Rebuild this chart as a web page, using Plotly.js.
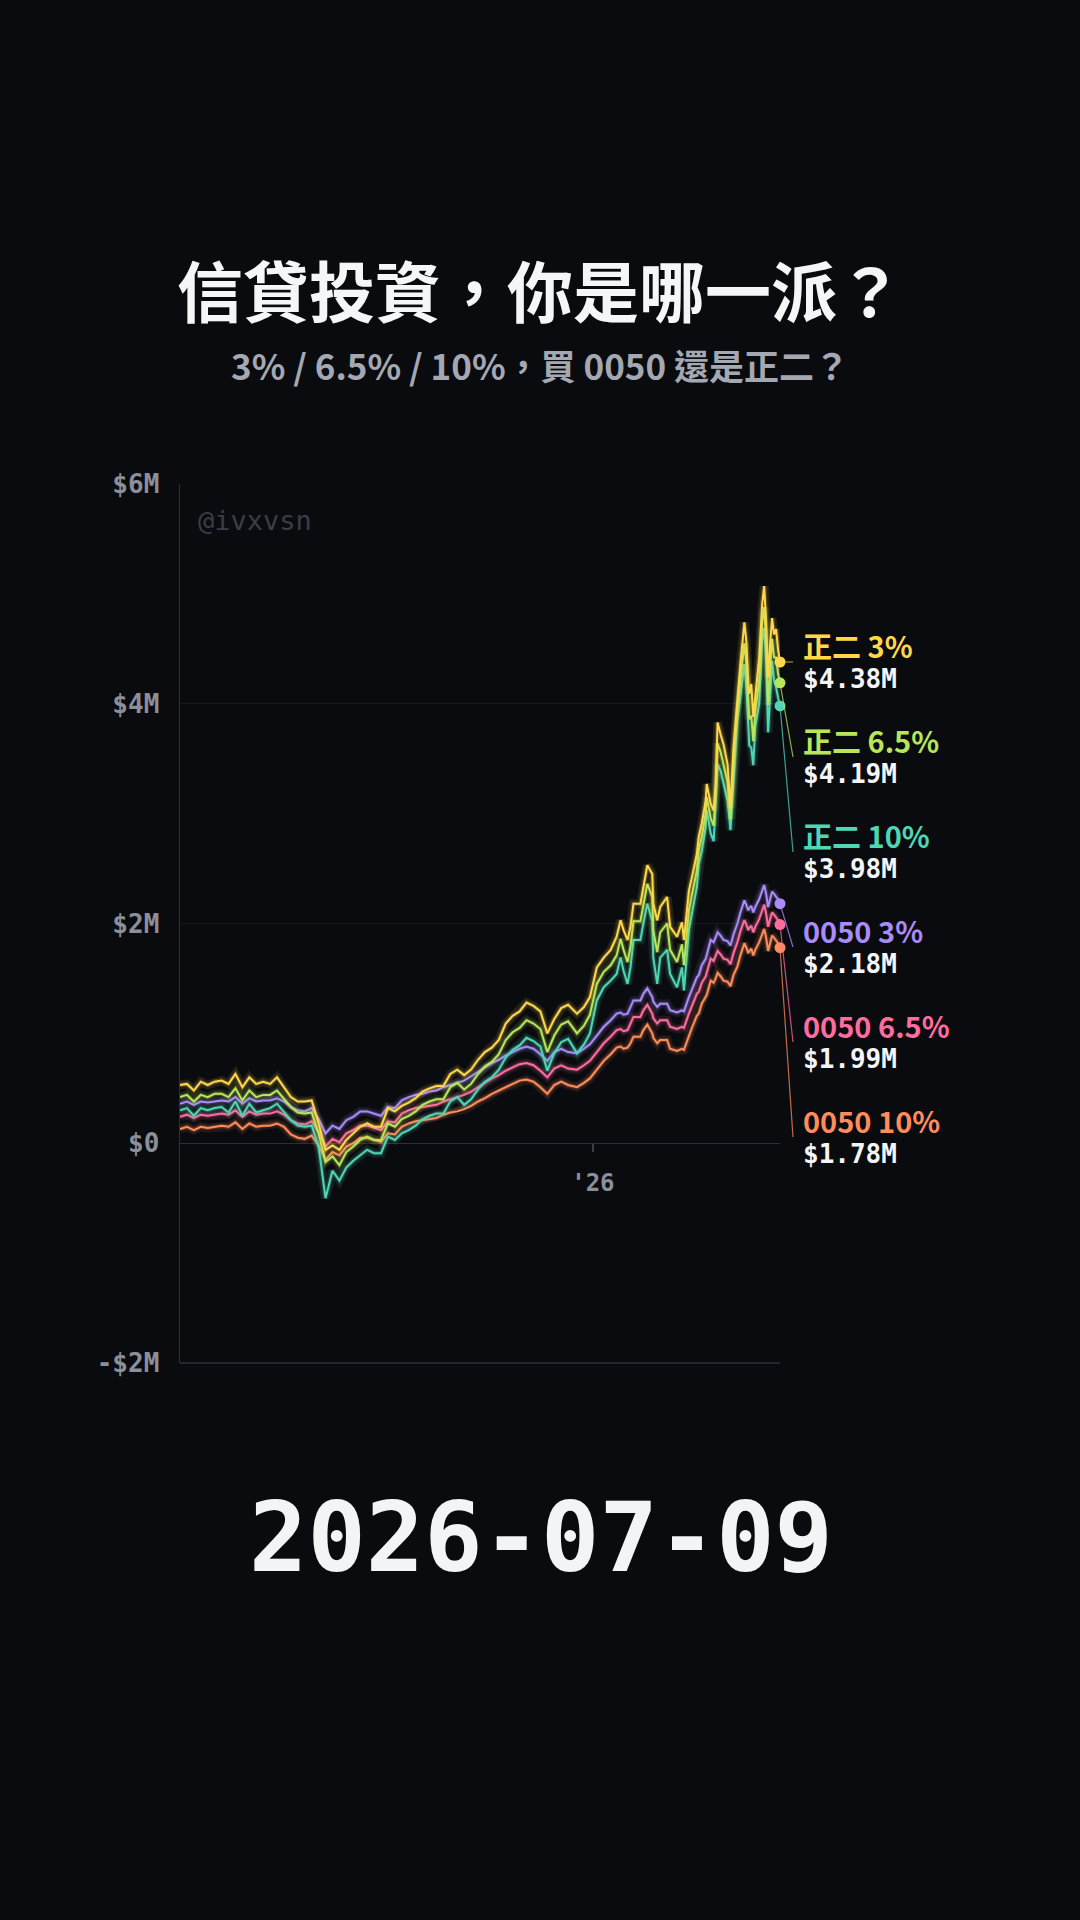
<!DOCTYPE html>
<html>
<head>
<meta charset="utf-8">
<script src="https://cdn.plot.ly/plotly-3.0.1.min.js"></script>
<style>
html,body{margin:0;padding:0;background:#0a0b0f;}
#chart{width:1080px;height:1920px;}
</style>
</head>
<body>
<div id="chart"></div>
<script>
// ---------- data ----------
const dates = [
'2024-11-10','2024-11-17','2024-11-24','2024-12-01','2024-12-08','2024-12-15','2024-12-22','2024-12-29',
'2025-01-05','2025-01-12','2025-01-19','2025-01-26','2025-02-02','2025-02-09','2025-02-16','2025-02-23',
'2025-03-02','2025-03-09','2025-03-16','2025-03-23','2025-03-30','2025-04-06','2025-04-13','2025-04-20','2025-04-27',
'2025-05-04','2025-05-11','2025-05-18','2025-05-25','2025-06-01','2025-06-08','2025-06-15','2025-06-22','2025-06-29',
'2025-07-06','2025-07-13','2025-07-20','2025-07-27','2025-08-03','2025-08-10','2025-08-17','2025-08-24','2025-08-31',
'2025-09-07','2025-09-14','2025-09-21','2025-09-28','2025-10-05','2025-10-12','2025-10-19','2025-10-26',
'2025-11-02','2025-11-09','2025-11-16','2025-11-23','2025-11-30','2025-12-07',
'2025-12-16','2025-12-23','2025-12-29','2026-01-05','2026-01-12','2026-01-19','2026-01-25','2026-01-29',
'2026-02-01','2026-02-05','2026-02-08','2026-02-11','2026-02-18','2026-02-21','2026-02-25','2026-03-02',
'2026-03-03','2026-03-07','2026-03-10','2026-03-17','2026-03-20','2026-03-27','2026-04-01','2026-04-03',
'2026-04-08','2026-04-11','2026-04-16','2026-04-18','2026-04-21','2026-04-25','2026-04-26','2026-04-30',
'2026-05-03','2026-05-05','2026-05-07','2026-05-10','2026-05-13','2026-05-17','2026-05-20','2026-05-23',
'2026-05-27','2026-05-30','2026-06-03','2026-06-05','2026-06-07','2026-06-08','2026-06-10','2026-06-12',
'2026-06-14','2026-06-18','2026-06-21','2026-06-23','2026-06-25','2026-06-27','2026-06-29','2026-07-01',
'2026-07-03','2026-07-05','2026-07-07','2026-07-09'
];

// values in millions
const zheng2_3 = [
0.53,0.54,0.48,0.56,0.53,0.56,0.57,0.54,0.63,0.51, 0.60,0.54,0.56,0.54,0.60,0.51,0.42,0.38,0.38,0.39,
0.18,-0.06,-0.02,-0.06,0.03,0.09,0.15,0.18,0.15,0.15, 0.32,0.29,0.34,0.37,0.41,0.47,0.50,0.52,0.52,0.63,
0.67,0.62,0.67,0.76,0.83,0.87,0.94,1.09,1.16,1.20, 1.28,1.25,1.20,1.00,1.13,1.23,1.26,
1.18,1.24,1.33,1.60,1.69,1.76,1.88,2.03,1.94,1.85, 1.97,2.18,2.18,2.33,2.53,2.45,2.18,2.03,2.15,2.24,
1.97,1.88,2.01,1.85,2.30,2.42,2.63,2.79,2.91,3.12, 3.27,3.09,3.03,3.27,3.83,3.72,3.63,3.45,3.05,3.60,
4.06,4.36,4.74,4.57,4.18,4.09,4.18,3.88,4.06,4.42, 4.91,5.07,4.75,4.24,4.54,4.78,4.63,4.68,4.50,4.38
];
const zheng2_65 = [
0.42,0.44,0.38,0.44,0.42,0.45,0.45,0.42,0.50,0.39, 0.48,0.42,0.44,0.44,0.48,0.41,0.33,0.28,0.27,0.28,
0.09,-0.17,-0.12,-0.20,-0.08,-0.03,0.03,0.06,0.03,0.03, 0.18,0.15,0.22,0.25,0.29,0.35,0.38,0.40,0.40,0.51,
0.55,0.49,0.54,0.63,0.70,0.74,0.81,0.94,1.01,1.05, 1.12,1.09,1.04,0.83,0.98,1.08,1.11,
1.00,1.07,1.17,1.45,1.56,1.62,1.71,1.86,1.76,1.65, 1.79,2.02,2.02,2.17,2.36,2.24,1.94,1.74,1.92,2.00,
1.76,1.65,1.81,1.62,2.12,2.26,2.48,2.67,2.79,3.00, 3.15,2.96,2.89,3.18,3.64,3.56,3.45,3.29,2.95,3.44,
3.96,4.21,4.55,4.36,3.97,3.86,3.89,3.66,3.93,4.21, 4.74,4.88,4.57,3.99,4.30,4.59,4.42,4.42,4.28,4.19
];
const zheng2_10 = [
0.30,0.32,0.25,0.32,0.30,0.32,0.33,0.28,0.38,0.25, 0.36,0.28,0.30,0.32,0.36,0.28,0.21,0.16,0.15,0.16,
-0.03,-0.50,-0.25,-0.34,-0.22,-0.16,-0.11,-0.06,-0.09,-0.09, 0.06,0.03,0.09,0.12,0.16,0.22,0.25,0.27,0.27,0.38,
0.42,0.35,0.40,0.49,0.56,0.60,0.67,0.78,0.85,0.89, 0.96,0.93,0.88,0.66,0.82,0.92,0.95,
0.82,0.90,1.00,1.30,1.42,1.48,1.54,1.69,1.57,1.45, 1.60,1.85,1.85,2.00,2.18,2.02,1.69,1.45,1.69,1.76,
1.54,1.42,1.60,1.39,1.94,2.09,2.33,2.54,2.66,2.88, 3.03,2.82,2.75,3.09,3.45,3.39,3.27,3.12,2.85,3.27,
3.85,4.06,4.36,4.15,3.75,3.62,3.60,3.44,3.79,4.00, 4.57,4.69,4.39,3.74,4.06,4.39,4.21,4.15,4.06,3.98
];
const etf0050_3 = [
0.36,0.38,0.35,0.38,0.37,0.38,0.39,0.38,0.42,0.36, 0.41,0.38,0.39,0.39,0.41,0.38,0.33,0.30,0.29,0.32,
0.22,0.09,0.16,0.13,0.21,0.24,0.29,0.29,0.27,0.25, 0.33,0.32,0.39,0.42,0.44,0.45,0.47,0.48,0.51,0.53,
0.55,0.57,0.61,0.65,0.69,0.73,0.76,0.80,0.83,0.86, 0.88,0.86,0.81,0.75,0.83,0.86,0.83,
0.82,0.86,0.90,0.98,1.06,1.12,1.18,1.19,1.17,1.18, 1.24,1.30,1.30,1.36,1.41,1.33,1.29,1.24,1.27,1.27,
1.21,1.19,1.21,1.20,1.33,1.40,1.51,1.53,1.62,1.68, 1.72,1.85,1.83,1.87,1.92,1.89,1.85,1.84,1.80,1.90,
2.00,2.10,2.21,2.17,2.12,2.14,2.16,2.10,2.15,2.22, 2.30,2.35,2.27,2.15,2.22,2.29,2.27,2.25,2.22,2.18
];
const etf0050_65 = [
0.24,0.26,0.23,0.26,0.25,0.26,0.27,0.26,0.30,0.24, 0.29,0.26,0.27,0.27,0.29,0.26,0.21,0.18,0.17,0.20,
0.10,-0.03,0.04,0.01,0.09,0.12,0.16,0.16,0.14,0.12, 0.20,0.19,0.27,0.30,0.32,0.33,0.34,0.35,0.38,0.40,
0.42,0.44,0.47,0.51,0.55,0.59,0.62,0.66,0.69,0.72, 0.73,0.71,0.66,0.60,0.68,0.71,0.68,
0.67,0.71,0.75,0.83,0.91,0.97,1.03,1.04,1.02,1.03, 1.09,1.15,1.15,1.21,1.26,1.18,1.14,1.09,1.12,1.12,
1.06,1.04,1.06,1.05,1.18,1.25,1.36,1.38,1.46,1.52, 1.55,1.68,1.66,1.70,1.75,1.72,1.68,1.67,1.63,1.73,
1.83,1.93,2.03,1.99,1.94,1.96,1.98,1.92,1.97,2.04, 2.12,2.17,2.09,1.97,2.04,2.10,2.08,2.06,2.03,1.99
];
const etf0050_10 = [
0.13,0.15,0.12,0.15,0.14,0.15,0.16,0.15,0.19,0.13, 0.18,0.15,0.16,0.16,0.18,0.15,0.08,0.05,0.04,0.07,
-0.02,-0.15,-0.08,-0.11,-0.03,0.00,0.05,0.05,0.03,0.01, 0.09,0.08,0.15,0.18,0.20,0.21,0.22,0.23,0.26,0.28,
0.29,0.31,0.34,0.38,0.41,0.45,0.48,0.51,0.54,0.57, 0.58,0.56,0.51,0.45,0.53,0.56,0.53,
0.51,0.55,0.59,0.67,0.75,0.81,0.87,0.88,0.86,0.87, 0.91,0.97,0.97,1.03,1.08,1.00,0.96,0.91,0.94,0.94,
0.86,0.84,0.86,0.85,0.98,1.05,1.16,1.18,1.27,1.33, 1.35,1.48,1.46,1.50,1.55,1.52,1.48,1.47,1.43,1.53,
1.61,1.71,1.82,1.78,1.73,1.75,1.77,1.71,1.76,1.83, 1.90,1.95,1.87,1.75,1.82,1.89,1.87,1.85,1.82,1.78
];

const seriesNames = ['正二 3%', '正二 6.5%', '正二 10%', '0050 3%', '0050 6.5%', '0050 10%'];
const seriesValues = [zheng2_3, zheng2_65, zheng2_10, etf0050_3, etf0050_65, etf0050_10];
const yTickVals = [-2, 0, 2, 4, 6];
const yTickText = ['-$2M', '$0', '$2M', '$4M', '$6M'];
const xTickVals = ['2026-01-01'];
const xTickText = ["'26"];
const titleText = '信貸投資，你是哪一派？';
const subtitleText = '3% / 6.5% / 10%，買 0050 還是正二？';
const dateText = '2026-07-09';
const watermarkText = '@ivxvsn';

// ---------- styling ----------
const colors = ['#ffd84a', '#b8e65a', '#4fd6b4', '#a98bfa', '#ff6c9e', '#ff8c5a'];
const CJK = '"Noto Sans CJK TC","Noto Sans CJK SC","Noto Sans",sans-serif';
const MONO = '"DejaVu Sans Mono","Liberation Mono",monospace';
const BG = '#0a0b0f';
const Y_MIN = -2, Y_MAX = 6;

// plot area pixels
const W = 1080, H = 1920;
const M = {l: 180, r: 300, t: 484, b: 557};
const plotH = H - M.t - M.b;
const pxToPaperY = py => (H - M.b - py) / plotH;

const traces = [];
const drawOrder = [5, 4, 3, 2, 1, 0];
drawOrder.forEach(i => {
  const c = colors[i];
  traces.push({x: dates, y: seriesValues[i], type: 'scatter', mode: 'lines',
    line: {color: c, width: 9, shape: 'linear'}, opacity: 0.10, hoverinfo: 'skip'});
  traces.push({x: dates, y: seriesValues[i], type: 'scatter', mode: 'lines',
    line: {color: c, width: 4.5, shape: 'linear'}, opacity: 0.22, hoverinfo: 'skip'});
  traces.push({x: dates, y: seriesValues[i], type: 'scatter', mode: 'lines',
    line: {color: c, width: 2, shape: 'linear'}, opacity: 1, name: seriesNames[i]});
});
drawOrder.forEach(i => {
  const v = seriesValues[i];
  traces.push({x: [dates[dates.length - 1]], y: [v[v.length - 1]], type: 'scatter', mode: 'markers',
    marker: {color: colors[i], size: 11}, cliponaxis: false, hoverinfo: 'skip'});
});

const annotations = [];
const shapes = [];
const labelX = (801 - M.l) / (W - M.l - M.r);
const leaderX = (793 - M.l) / (W - M.l - M.r);
seriesNames.forEach((nm, i) => {
  const v = seriesValues[i];
  const last = v[v.length - 1];
  const centerPx = 662 + 95 * i;
  annotations.push({xref: 'paper', yref: 'paper', x: labelX, y: pxToPaperY(centerPx - 15),
    xanchor: 'left', yanchor: 'bottom', yshift: -21, showarrow: false, text: nm,
    font: {family: CJK, size: 29, color: colors[i], weight: 700}});
  annotations.push({xref: 'paper', yref: 'paper', x: labelX, y: pxToPaperY(centerPx + 16),
    xanchor: 'left', yanchor: 'top', yshift: 16, showarrow: false, text: '$' + last.toFixed(2) + 'M',
    font: {family: MONO, size: 26, color: '#f4f5f7', weight: 700}});
  shapes.push({type: 'line', xref: 'paper', yref: 'paper',
    x0: 1, y0: (last - Y_MIN) / (Y_MAX - Y_MIN), x1: leaderX, y1: pxToPaperY(centerPx),
    line: {color: colors[i], width: 1.2}, opacity: 0.75});
});

annotations.push({xref: 'paper', yref: 'paper', x: (540 - M.l) / (W - M.l - M.r), y: pxToPaperY(364),
  xanchor: 'center', yanchor: 'middle', showarrow: false, text: subtitleText,
  font: {family: CJK, size: 35, color: '#a3a8b2', weight: 700}});
annotations.push({xref: 'paper', yref: 'paper', x: (541 - M.l) / (W - M.l - M.r), y: pxToPaperY(1537),
  xanchor: 'center', yanchor: 'middle', showarrow: false, text: dateText,
  font: {family: MONO, size: 97, color: '#f3f4f6', weight: 700}});
annotations.push({xref: 'paper', yref: 'paper', x: (196 - M.l) / (W - M.l - M.r), y: pxToPaperY(520),
  xanchor: 'left', yanchor: 'middle', showarrow: false, text: watermarkText,
  font: {family: MONO, size: 27, color: '#3a3d46'}});

shapes.push({type: 'line', xref: 'paper', yref: 'paper', x0: 0, x1: 1, y0: 0, y1: 0,
  line: {color: '#2e3138', width: 1.5}});

const layout = {
  width: W, height: H,
  margin: M,
  paper_bgcolor: BG, plot_bgcolor: BG,
  showlegend: false,
  title: {text: titleText, x: 0.5, xref: 'container', xanchor: 'center',
    y: 1 - 294 / H, yref: 'container', yanchor: 'middle',
    font: {family: CJK, size: 66, color: '#f5f6f8', weight: 700}},
  xaxis: {type: 'date', range: [dates[0], dates[dates.length - 1]],
    tickvals: xTickVals, ticktext: xTickText,
    anchor: 'free', position: (0 - Y_MIN) / (Y_MAX - Y_MIN),
    showgrid: false, zeroline: false, showline: false,
    ticks: 'outside', ticklen: 8, tickwidth: 1.5, tickcolor: '#3a3d45',
    ticklabelstandoff: 10,
    tickfont: {family: MONO, size: 24, color: '#8a8f99', weight: 700},
    fixedrange: true},
  yaxis: {range: [Y_MIN, Y_MAX], tickvals: yTickVals, ticktext: yTickText,
    showgrid: true, gridcolor: '#16181d', gridwidth: 1,
    zeroline: true, zerolinecolor: '#2b2e35', zerolinewidth: 1.5,
    showline: true, linecolor: '#2e3138', linewidth: 1.5,
    ticks: '', ticklabelstandoff: 14,
    tickfont: {family: MONO, size: 26, color: '#8a8f99', weight: 700},
    fixedrange: true},
  annotations: annotations,
  shapes: shapes
};

Plotly.newPlot('chart', traces, layout, {staticPlot: true, displayModeBar: false});
</script>
</body>
</html>
